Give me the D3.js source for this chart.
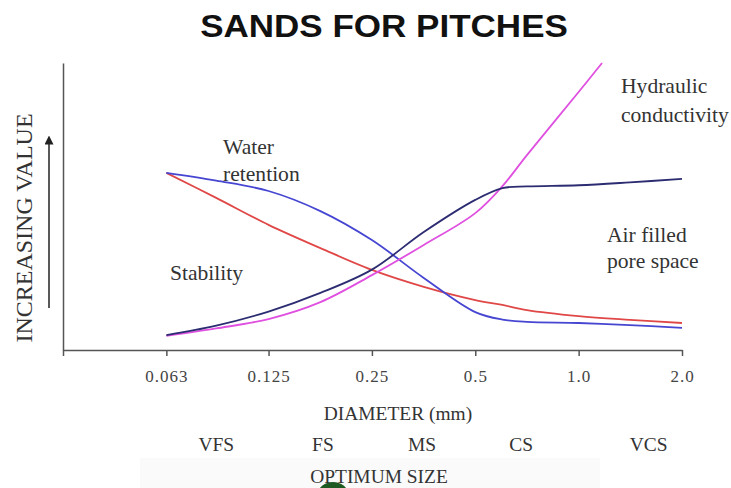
<!DOCTYPE html>
<html>
<head>
<meta charset="utf-8">
<script src="https://cdn.jsdelivr.net/npm/d3@7"></script>
<style>
  body { margin: 0; background: #fff; }
  svg { display: block; }
</style>
</head>
<body>
<svg id="chart" width="731" height="488"></svg>
<script>
// values, y in arbitrary "increasing value" units (0-100)
const diameters = [0.063, 0.088, 0.125, 0.177, 0.25, 0.354, 0.5, 0.6, 0.707, 1, 1.41, 2];
const waterRetention = [61.7, 59.0, 55.4, 48.4, 38.3, 25.1, 13.2, 10.6, 9.8, 9.4, 8.7, 7.7];
const stability = [61.7, 53.0, 43.6, 35.5, 27.9, 22.0, 17.4, 15.7, 13.9, 11.8, 10.5, 9.4];
const airFilled = [5.2, 8.5, 13.4, 19.9, 28.0, 41.1, 52.3, 56.4, 57.0, 57.4, 58.4, 59.6];
const hydraulicDiameters = [0.063, 0.088, 0.125, 0.177, 0.25, 0.354, 0.5, 0.6, 0.707, 1, 1.17];
const hydraulic = [4.9, 7.5, 10.8, 16.7, 26.1, 36.6, 47.7, 57.1, 67.9, 89.9, 100];

const tickValues = [0.0315, 0.063, 0.125, 0.25, 0.5, 1, 2];
const tickLabels = ["", "0.063", "0.125", "0.25", "0.5", "1.0", "2.0"];
const sandClasses = ["VFS", "FS", "MS", "CS", "VCS"];
const sandClassAt = [0.088, 0.18, 0.35, 0.68, 1.6];

const svg = d3.select("#chart");
const serif = "'Liberation Serif', 'Times New Roman', serif";

const x = d3.scaleLog().base(2).domain([0.0315, 2]).range([63, 682]);
const y = d3.scaleLinear().domain([0, 100]).range([350, 63]);

// faint strip + green blob at the bottom of the slide
svg.append("rect")
    .attr("x", 140).attr("y", 458).attr("width", 460).attr("height", 30)
    .attr("fill", "#fafafa");
svg.append("ellipse")
    .attr("cx", 333).attr("cy", 494).attr("rx", 15).attr("ry", 12)
    .attr("fill", "#1e5a22");

// helper: text slightly stretched horizontally like the original slide
function label(txt, px, py, size, opts = {}) {
  return svg.append("text")
      .attr("transform", `translate(${px},${py}) scale(${opts.sx || 1.08},1)`)
      .attr("text-anchor", opts.anchor || "start")
      .attr("font-family", opts.family || serif)
      .attr("font-size", size)
      .attr("font-weight", opts.weight || "normal")
      .attr("fill", opts.fill || "#333")
      .text(txt);
}

label("SANDS FOR PITCHES", 384, 37, 31, {
  anchor: "middle", family: "'Liberation Sans', Arial, sans-serif",
  weight: "bold", fill: "#111", sx: 1.13
});

// axes
svg.append("g")
    .attr("transform", "translate(63,0)")
    .call(d3.axisLeft(y).tickValues([]).tickSizeOuter(0))
    .call(g => g.select(".domain").attr("stroke", "#555").attr("stroke-width", 1.5));

svg.append("g")
    .attr("transform", "translate(0,350)")
    .call(d3.axisBottom(x)
      .tickValues(tickValues)
      .tickFormat((d, i) => tickLabels[i])
      .tickSize(6)
      .tickSizeOuter(0))
    .call(g => g.select(".domain").attr("stroke", "#555").attr("stroke-width", 1.5))
    .call(g => g.selectAll(".tick line").attr("stroke", "#555").attr("stroke-width", 1.5))
    .call(g => g.selectAll(".tick text")
      .attr("y", 32).attr("dy", 0)
      .attr("font-family", serif)
      .attr("font-size", 17)
      .attr("letter-spacing", 1)
      .attr("fill", "#444"));

// y label and arrow
svg.append("text")
    .attr("transform", "translate(32,228) rotate(-90)")
    .attr("text-anchor", "middle")
    .attr("font-family", serif)
    .attr("font-size", 24)
    .attr("fill", "#333")
    .text("INCREASING VALUE");

svg.append("defs").append("marker")
    .attr("id", "head")
    .attr("viewBox", "0 0 10 10")
    .attr("refX", 5).attr("refY", 5)
    .attr("markerWidth", 6).attr("markerHeight", 6)
    .attr("orient", "auto")
  .append("path")
    .attr("d", "M0,0L10,5L0,10z")
    .attr("fill", "#222");

svg.append("line")
    .attr("x1", 49).attr("y1", 308).attr("x2", 49).attr("y2", 140)
    .attr("stroke", "#222").attr("stroke-width", 1.5)
    .attr("marker-end", "url(#head)");

// curves
const line = d3.line()
    .x(d => x(d[0]))
    .y(d => y(d[1]))
    .curve(d3.curveCatmullRom.alpha(0.5));

const series = [
  { xs: diameters, ys: stability, color: "#e04848" },
  { xs: diameters, ys: waterRetention, color: "#4646d2" },
  { xs: hydraulicDiameters, ys: hydraulic, color: "#e050e0" },
  { xs: diameters, ys: airFilled, color: "#2c2c72" }
];

series.forEach(s => {
  svg.append("path")
      .datum(d3.zip(s.xs, s.ys))
      .attr("fill", "none")
      .attr("stroke", s.color)
      .attr("stroke-width", 1.8)
      .attr("d", line);
});

// curve labels
label("Water", 223, 154, 20);
label("retention", 223, 181, 20);
label("Stability", 170, 280, 20);
label("Hydraulic", 621, 93, 20);
label("conductivity", 621, 122, 20);
label("Air filled", 607, 242, 20);
label("pore space", 607, 268, 20);

// bottom texts
label("DIAMETER (mm)", 398, 420, 18, { anchor: "middle" });
sandClasses.forEach((c, i) => {
  label(c, x(sandClassAt[i]), 451, 18, { anchor: "middle" });
});
label("OPTIMUM SIZE", 379, 483, 18, { anchor: "middle" });
</script>
</body>
</html>
